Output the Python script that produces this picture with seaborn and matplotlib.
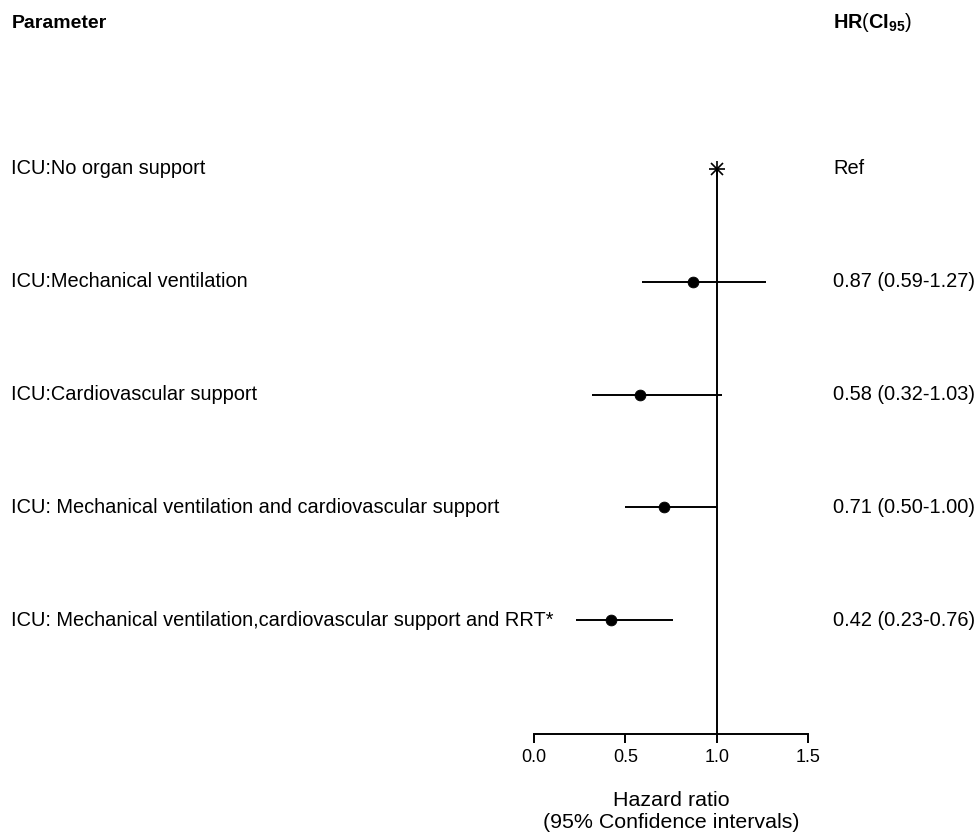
import numpy as np
import pandas as pd
import matplotlib
matplotlib.use("Agg")
import matplotlib.pyplot as plt
import matplotlib.transforms as mtransforms
import seaborn as sns

# data
params = ["ICU:No organ support",
          "ICU:Mechanical ventilation",
          "ICU:Cardiovascular support",
          "ICU: Mechanical ventilation and cardiovascular support",
          "ICU: Mechanical ventilation,cardiovascular support and RRT*"]
hr = [1.00, 0.87, 0.58, 0.71, 0.42]
ci_low = [np.nan, 0.59, 0.32, 0.50, 0.23]
ci_high = [np.nan, 1.27, 1.03, 1.00, 0.76]
x_ticks = [0.0, 0.5, 1.0, 1.5]

df = pd.DataFrame({"param": params, "hr": hr, "lo": ci_low, "hi": ci_high})
df["row"] = -np.arange(len(df))
df["txt"] = ["Ref" if np.isnan(l) else f"{h:.2f} ({l:.2f}-{u:.2f})"
             for h, l, u in zip(df.hr, df.lo, df.hi)]

sns.set_style("white")
plt.rcParams["font.family"] = ["Liberation Sans", "DejaVu Sans"]
plt.rcParams["text.color"] = "black"
plt.rcParams["xtick.color"] = "black"
plt.rcParams["mathtext.fontset"] = "custom"
plt.rcParams["mathtext.rm"] = "Liberation Sans"
plt.rcParams["mathtext.bf"] = "Liberation Sans:bold"

fig = plt.figure(figsize=(9.78, 8.39), dpi=100)
ax = fig.add_axes([534/978, 1 - 734/839, 274/978, (734 - 80)/839])
ax.set_xlim(0, 1.5)
ax.set_ylim(-(734 - 169)/112.75, (169 - 80)/112.75)

# reference line at HR = 1
ax.vlines(1.0, ax.get_ylim()[0], 0, color="black", lw=1.4, zorder=1)

est = df[df.lo.notna()]
ax.hlines(est.row, est.lo, est.hi, color="black", lw=1.4)
sns.scatterplot(data=est, x="hr", y="row", ax=ax, color="black", s=60,
                edgecolor="black", zorder=3, legend=False)

ref = df[df.lo.isna()]
ax.plot(ref.hr, ref.row, marker="+", ms=12, mew=1.2, color="black", ls="none", zorder=3)
ax.plot(ref.hr, ref.row, marker="x", ms=8.5, mew=1.2, color="black", ls="none", zorder=3)

for s in ["top", "right", "left"]:
    ax.spines[s].set_visible(False)
ax.spines["bottom"].set_bounds(0, 1.5)
ax.spines["bottom"].set_linewidth(1.4)
ax.spines["bottom"].set_color("black")
ax.set_yticks([])
ax.set_xticks(x_ticks)
ax.set_xticklabels([f"{t:.1f}" for t in x_ticks], fontsize=13)
ax.tick_params(axis="x", direction="out", length=6.5, width=1.4, bottom=True, pad=4)
ax.set_xlabel("")
ax.set_ylabel("")

xc = (534 + 808) / 2 / 978
fig.text(xc, 1 - 800/839, "Hazard ratio", ha="center", va="center", fontsize=15.4)
fig.text(xc, 1 - 823/839, "(95% Confidence intervals)", ha="center", va="center", fontsize=15.4)

trans = mtransforms.blended_transform_factory(fig.transFigure, ax.transData)
for _, r in df.iterrows():
    ax.text(11/978, r.row, r.param, transform=trans, ha="left", va="center", fontsize=14.4)
    ax.text(833/978, r.row, r.txt, transform=trans, ha="left", va="center", fontsize=14.4)

fig.text(12/978, 1 - 23/839, "Parameter", ha="left", va="center", fontsize=14, weight="bold")
fig.text(833/978, 1 - 23/839, r"$\mathbf{HR}(\mathbf{CI}_{\mathbf{95}})$", ha="left",
         va="center", fontsize=14.3)

fig.savefig("out.png", dpi=100)
